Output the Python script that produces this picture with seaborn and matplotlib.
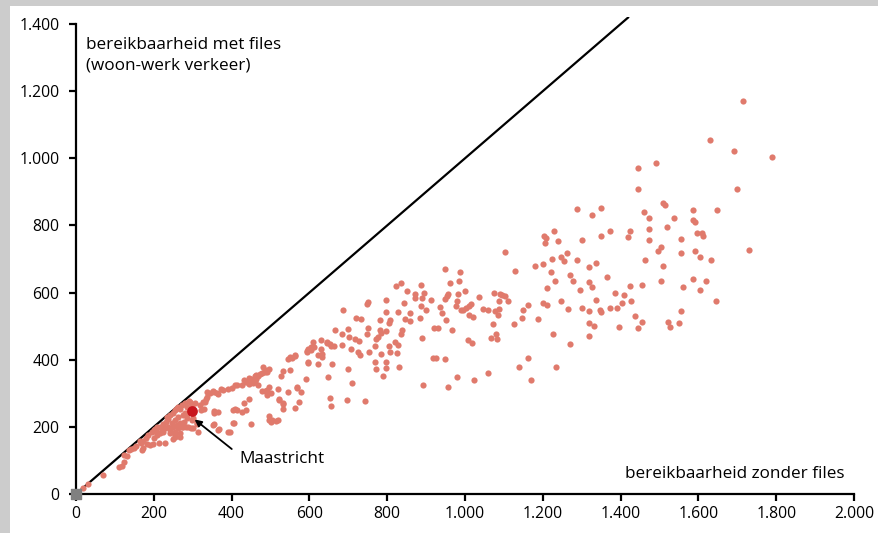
import pandas as pd
import numpy as np
import matplotlib
matplotlib.use('Agg')
import matplotlib.pyplot as plt
import seaborn as sns
from matplotlib.ticker import FuncFormatter

# bereikbaarheid zonder files (x) en met files (y), per gemeente
zonder_files = [
    1715, 1631, 1692, 1790, 1700, 1585, 1649, 1585, 1592, 1597, 1608, 1613, 1554, 1556, 1592, 1605,
    1633, 1731, 1585, 1620, 1561, 1603, 1644, 1556, 1551,
    1446, 1490, 1444, 1510, 1515, 1287, 1326, 1349, 1461, 1472, 1538, 1520, 1474, 1423, 1372, 1228,
    1203, 1208, 1349, 1418, 1474, 1300, 1238,
    1205, 1103, 1497, 1503, 1464, 1128, 1179, 1200, 1223, 1246, 1254, 1262, 1287, 1320, 1336, 1220,
    1231, 1269, 1277, 1364, 1320, 1326, 1295, 1210, 1508, 1505, 1456, 1423, 1385, 1408, 1426, 1403,
    1392, 1372, 1438, 1454, 1446, 1397, 1523, 1526, 1336, 1346, 1349, 1318, 1300, 1264, 1246, 1200,
    1210, 1162, 1149, 1146, 1126, 1187, 1320, 1331, 1320, 1226, 1269, 1110, 1087, 1074, 1090, 1095,
    1103, 1036, 1046, 1059, 1077, 1087, 1085, 1072, 1067, 1079, 1082, 1162, 1138, 1233, 1169, 1059,
    949, 987, 985, 962, 836, 823, 887, 851, 872, 895, 872, 890, 913, 949, 956, 954, 982, 1000, 980,
    977, 1015, 1010, 1003, 995, 990, 1010, 1020, 936, 941, 951, 967, 920, 931, 890, 900, 885, 887,
    859, 846, 859, 844, 828, 797, 749, 751, 797, 782, 808, 805, 797, 838, 836, 782, 785, 777, 772,
    751, 749, 769, 720, 733, 687, 700, 685, 667, 703, 718, 728, 685, 708, 726, 731, 754, 805, 820,
    828, 808, 826, 785, 918, 926, 949, 1008, 1018, 769, 797, 831, 797, 772, 700, 656, 662, 644, 646,
    654, 631, 610, 613, 603, 597, 605, 595, 631, 633, 623, 633, 659, 623, 597, 562, 551, 544,
    482, 487, 495, 490, 459, 464, 469, 451, 464, 459, 467, 446, 454, 531, 528, 549, 590, 649, 567,
    579, 518, 497, 485, 492, 500, 521, 531, 531, 562, 574, 654, 656, 697, 744, 710, 495, 500, 518,
    451, 790, 892, 956, 979, 1023,
    31, 18, 69, 110, 123, 123, 136, 141, 149, 154, 167, 164, 169, 172, 185, 182, 190, 197, 200, 205,
    208, 200, 213, 228,
    215, 223, 231, 236, 220, 228, 236, 241, 249, 246, 254, 262, 241, 254, 262, 272, 277, 285, 287,
    295, 280, 297, 305, 292, 285, 254, 249, 267, 272, 282, 295, 300, 313, 310, 300, 259, 267,
    321, 328, 326, 333, 336, 351, 362, 372, 390, 400, 410, 426, 438, 477, 354, 354, 367, 395, 403,
    410, 428, 436, 403, 446, 479, 495, 521, 533, 546, 567, 554, 564, 595, 597,
    118, 131, 172, 179, 195, 203, 208, 233, 241, 249, 254, 262, 272, 280, 290, 215, 223, 259, 267,
    254, 267, 274, 274, 287, 318, 331, 336, 344, 356, 364, 377, 415, 433, 446, 472, 485, 297, 310,
    356, 364, 351, 364, 390, 405, 415, 433, 492, 505, 515,
]
met_files = [
    1171, 1055, 1022, 1004, 909, 846, 846, 816, 810, 778, 778, 769, 760, 718, 724, 706,
    697, 727, 640, 635, 617, 608, 575, 545, 509,
    971, 986, 909, 866, 860, 849, 831, 852, 840, 822, 822, 795, 789, 783, 783, 783,
    769, 763, 769, 766, 757, 757, 754,
    748, 721, 724, 736, 697, 664, 679, 685, 700, 706, 694, 718, 697, 676, 688, 661,
    635, 652, 635, 646, 632, 617, 608, 614, 679, 635, 623, 620, 599, 593, 575, 569,
    554, 554, 530, 512, 495, 497, 512, 497, 578, 548, 542, 545, 554, 551, 575, 569,
    563, 563, 548, 524, 506, 521, 509, 500, 471, 477, 447, 575, 575, 599, 596, 593,
    590, 587, 551, 548, 545, 551, 533, 506, 465, 477, 462, 405, 378, 378, 340, 360,
    670, 661, 635, 629, 629, 620, 623, 605, 596, 599, 584, 584, 578, 581, 596, 590, 596, 605, 575,
    560, 566, 560, 554, 548, 548, 533, 527, 557, 539, 518, 489, 495, 495, 465, 548, 524, 560,
    515, 521, 539, 569, 542, 578, 566, 572, 542, 518, 518, 509, 486, 489, 477, 489, 480, 468, 462,
    495, 477, 441, 524, 521, 548, 492, 477, 489, 468, 462, 456, 444, 432, 423, 414, 423, 441, 453,
    444, 423, 420, 417, 405, 405, 402, 459, 450, 393, 393, 378, 375, 372, 372, 441, 441, 450, 453,
    447, 459, 453, 438, 438, 432, 429, 423, 432, 417, 414, 408, 387, 387, 390, 414, 408, 402,
    378, 369, 372, 363, 351, 354, 351, 343, 343, 334, 325, 328, 331, 366, 351, 369, 343, 348, 319,
    304, 313, 319, 307, 295, 301, 280, 268, 253, 256, 274, 286, 262, 280, 277, 331, 232, 214, 220,
    209, 352, 325, 319, 349, 340,
    30, 18, 57, 80, 95, 116, 131, 134, 137, 143, 152, 158, 131, 137, 176, 149, 146, 149, 191, 188,
    176, 167, 152, 152,
    200, 209, 214, 223, 191, 197, 200, 191, 200, 212, 220, 229, 182, 185, 197, 206, 214, 226, 241,
    250, 241, 265, 271, 274, 259, 170, 164, 170, 200, 200, 197, 197, 185, 209, 226, 256, 253,
    250, 253, 274, 283, 304, 307, 301, 313, 313, 316, 325, 325, 334, 360, 247, 209, 194, 185, 250,
    253, 244, 250, 212, 283, 307, 220, 283, 271, 304, 316, 405, 411, 426, 393,
    83, 113, 158, 167, 185, 194, 200, 229, 235, 241, 250, 259, 265, 271, 277, 182, 185, 206, 212,
    176, 182, 235, 200, 200, 265, 274, 289, 301, 304, 298, 310, 325, 340, 346, 357, 363, 220, 212,
    241, 244, 206, 191, 185, 212, 250, 271, 310, 220, 217,
]
maastricht_x = [298]
maastricht_y = [248]
x_ticks = [0, 200, 400, 600, 800, 1000, 1200, 1400, 1600, 1800, 2000]
y_ticks = [0, 200, 400, 600, 800, 1000, 1200, 1400]

df = pd.DataFrame({'zonder': zonder_files, 'met': met_files})
mst = pd.DataFrame({'zonder': maastricht_x, 'met': maastricht_y})

sns.set_theme(style='white')
plt.rcParams['font.family'] = ['Open Sans', 'DejaVu Sans']
plt.rcParams['text.color'] = 'black'

fig = plt.figure(figsize=(8.79, 5.33), dpi=100)
fig.patch.set_facecolor('white')

# grey page border (top and left)
fig.add_artist(plt.Rectangle((0, 0), 10 / 879, 1, transform=fig.transFigure,
                             facecolor='#cccccc', edgecolor='none', zorder=0))
fig.add_artist(plt.Rectangle((0, 1 - 6 / 533), 1, 6 / 533, transform=fig.transFigure,
                             facecolor='#cccccc', edgecolor='none', zorder=0))

ax = fig.add_axes([76 / 879, 39 / 533, 778 / 879, 476.7 / 533])
ax.set_facecolor('none')

# diagonal: met files == zonder files
ax.axline((0, 0), slope=1, color='black', lw=1.6, zorder=1)

sns.scatterplot(data=df, x='zonder', y='met', color='#E07A6C', s=20, linewidth=0,
                ax=ax, zorder=2)
sns.scatterplot(data=mst, x='zonder', y='met', color='#C8161E', s=60, linewidth=0,
                ax=ax, zorder=3)
ax.scatter([0], [0], marker='s', s=45, color='#808080', zorder=4, clip_on=False)

ax.annotate('Maastricht', xy=(305, 222), xytext=(420, 104), va='center', ha='left',
            fontsize=12.3, color='black',
            arrowprops=dict(arrowstyle='-|>', color='black', lw=1.3, relpos=(0, 0.75),
                            shrinkA=4, shrinkB=0, mutation_scale=10))

ax.text(25, 1362, 'bereikbaarheid met files\n(woon-werk verkeer)', ha='left', va='top',
        fontsize=12.3, linespacing=1.4, color='black')
ax.text(1975, 60, 'bereikbaarheid zonder files', ha='right', va='center', fontsize=12.3,
        color='black')

ax.set_xlim(0, 2000)
ax.set_ylim(0, 1420)
ax.set_xticks(x_ticks)
ax.set_yticks(y_ticks)
fmt = FuncFormatter(lambda v, p: f'{int(v):,}'.replace(',', '.'))
ax.xaxis.set_major_formatter(fmt)
ax.yaxis.set_major_formatter(fmt)
ax.set_xlabel('')
ax.set_ylabel('')

sns.despine(ax=ax)
ax.spines['left'].set_bounds(0, 1400)
for side in ['left', 'bottom']:
    ax.spines[side].set_color('black')
    ax.spines[side].set_linewidth(1.6)
ax.tick_params(axis='both', which='major', direction='out', length=5, width=1.6,
               color='black', labelsize=11.3, labelcolor='black')
ax.tick_params(axis='x', pad=4)
ax.tick_params(axis='y', pad=7)
ax.tick_params(bottom=True, left=True)

fig.savefig('out.png', dpi=100)
